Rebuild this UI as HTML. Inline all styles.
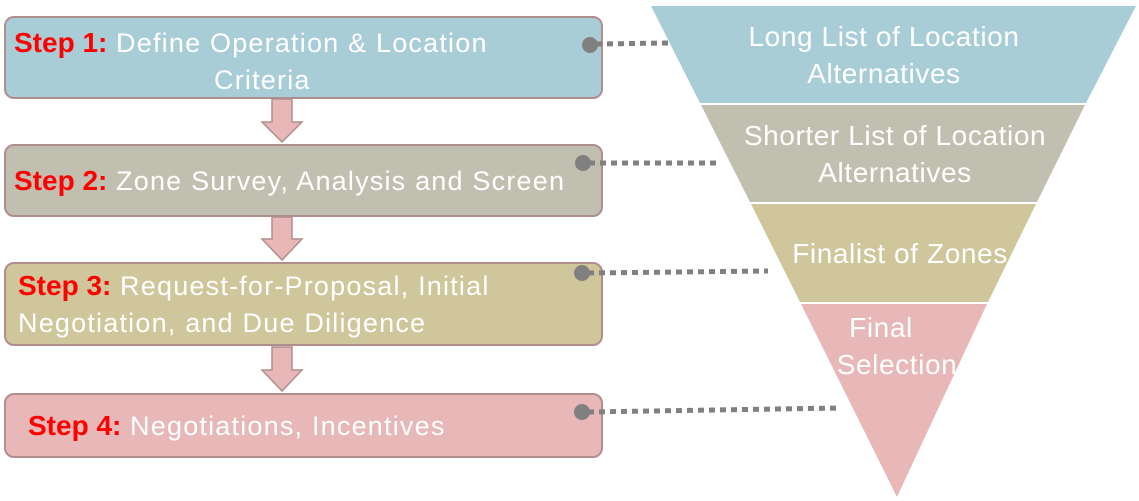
<!DOCTYPE html>
<html><head><meta charset="utf-8"><style>
body{margin:0;width:1139px;height:501px;background:#fff;overflow:hidden;position:relative;font-family:"Liberation Sans","Noto Sans CJK SC",sans-serif;}
.b{position:absolute;left:4px;width:599px;border:2px solid #b08e8e;border-radius:10px;box-sizing:border-box;color:#fff;font-size:27px;line-height:37px;letter-spacing:1.2px;white-space:nowrap;}
.s{color:#f00;font-weight:bold;letter-spacing:0;font-size:28px;}
</style></head><body>
<div class="b" style="top:16px;height:83px;background:#a8cdd7;padding:6px 0 0 8px;"><span class="s">Step 1:</span> Define Operation &amp; Location<br><span style="padding-left:200px">Criteria</span></div>
<div class="b" style="top:144px;height:73px;background:#c1bfb0;padding:16px 0 0 8px;"><span class="s">Step 2:</span> Zone Survey, Analysis and Screen</div>
<div class="b" style="top:262px;height:84px;background:#cfc69b;padding:3px 0 0 12px;"><span class="s">Step 3:</span> Request-for-Proposal, Initial<br>Negotiation, and Due Diligence</div>
<div class="b" style="top:393px;height:65px;background:#e8b7b7;padding:12px 0 0 22px;"><span class="s">Step 4:</span> Negotiations, Incentives</div>
<svg width="1139" height="501" style="position:absolute;left:0;top:0">
<g fill="#e8b7b7" stroke="#b08e8e" stroke-width="1.5">
<polygon points="272,99 292,99 292,122 302,122 282,142 262,122 272,122"/>
<polygon points="272,217 292,217 292,239 302,239 282,260 262,239 272,239"/>
<polygon points="272,347 292,347 292,370 302,370 282,391 262,370 272,370"/>
</g>
<polygon points="651,6 1136,6 1086,103 700,103" fill="#a8cdd7"/>
<polygon points="701,105 1085,105 1037,202 750,202" fill="#c1bfb0"/>
<polygon points="751,204 1036,204 988,302 800,302" fill="#cfc69b"/>
<polygon points="801,304 987,304 897,497" fill="#e8b7b7"/>
<g stroke="#808080" stroke-width="5" stroke-dasharray="6,5" fill="none">
<line x1="596" y1="44" x2="668" y2="43"/>
<line x1="589" y1="163" x2="720" y2="163"/>
<line x1="588" y1="273" x2="768" y2="271"/>
<line x1="588" y1="412" x2="840" y2="408"/>
</g>
<g fill="#808080"><circle cx="590" cy="45" r="8"/><circle cx="583" cy="163" r="8"/><circle cx="582" cy="273" r="8"/><circle cx="582" cy="412" r="8"/></g>
<g fill="#fff" font-size="28" letter-spacing="0.6" text-anchor="middle" font-family="Liberation Sans, sans-serif">
<text x="884" y="46">Long List of Location</text>
<text x="884" y="83">Alternatives</text>
<text x="895" y="145">Shorter List of Location</text>
<text x="895" y="182">Alternatives</text>
<text x="900" y="263">Finalist of Zones</text>
<text x="881" y="337">Final</text>
<text x="897" y="374">Selection</text>
</g>
</svg>
</body></html>
